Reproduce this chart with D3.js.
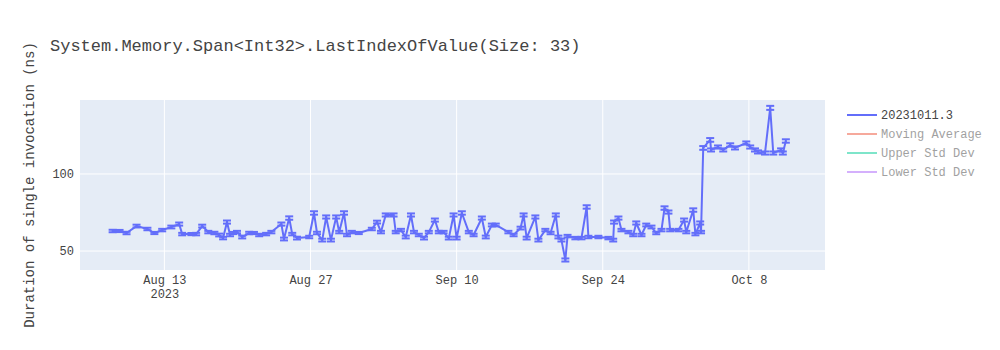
<!DOCTYPE html>
<html>
<head>
<meta charset="utf-8">
<script src="https://cdn.jsdelivr.net/npm/d3@7"></script>
<style>
  html, body { margin: 0; padding: 0; background: #fff; }
  svg { display: block; }
</style>
</head>
<body>
<svg id="chart" width="1000" height="350"></svg>
<script>
const chartTitle = "System.Memory.Span<Int32>.LastIndexOfValue(Size: 33)";
const yAxisTitle = "Duration of single invocation (ns)";
const seriesNames = ["20231011.3", "Moving Average", "Upper Std Dev", "Lower Std Dev"];
const seriesColors = ["#636efa", "#EF553B", "#00cc96", "#ab63fa"];
const yTicks = [50, 100];
const xTicks = ["2023-08-13", "2023-08-27", "2023-09-10", "2023-09-24", "2023-10-08"];
const xDomain = ["2023-08-04T22:00", "2023-10-15T07:00"];
const yDomain = [37.7, 148];

const dates = [
"2023-08-08T01:00","2023-08-08T17:00","2023-08-09T09:00","2023-08-10T08:00","2023-08-11T09:00",
"2023-08-12T01:00","2023-08-12T19:00","2023-08-13T16:00","2023-08-14T10:00","2023-08-14T17:00",
"2023-08-15T14:00","2023-08-16T01:00","2023-08-16T15:00","2023-08-17T05:00","2023-08-17T19:00",
"2023-08-18T06:00","2023-08-18T15:00","2023-08-19T00:00","2023-08-19T07:00","2023-08-19T14:00",
"2023-08-19T23:00","2023-08-20T11:00","2023-08-21T03:00","2023-08-21T14:00","2023-08-22T02:00",
"2023-08-22T18:00","2023-08-23T06:00","2023-08-24T05:00","2023-08-24T11:00","2023-08-24T23:00",
"2023-08-25T06:00","2023-08-25T17:00","2023-08-26T21:00","2023-08-27T08:00","2023-08-27T15:00",
"2023-08-28T03:00","2023-08-28T12:00","2023-08-28T23:00","2023-08-29T11:00","2023-08-29T18:00",
"2023-08-30T05:00","2023-08-30T12:00","2023-08-30T23:00","2023-08-31T15:00","2023-09-01T21:00",
"2023-09-02T09:00","2023-09-02T18:00","2023-09-03T05:00","2023-09-03T23:00","2023-09-04T04:00",
"2023-09-04T16:00","2023-09-05T03:00","2023-09-05T15:00","2023-09-05T22:00","2023-09-06T09:00",
"2023-09-06T21:00","2023-09-07T08:00","2023-09-07T22:00","2023-09-08T07:00","2023-09-08T18:00",
"2023-09-09T06:00","2023-09-09T17:00","2023-09-10T00:00","2023-09-10T12:00","2023-09-11T04:00",
"2023-09-11T15:00","2023-09-12T10:00","2023-09-12T19:00","2023-09-13T09:00","2023-09-13T18:00",
"2023-09-14T23:00","2023-09-15T11:00","2023-09-16T03:00","2023-09-16T10:00","2023-09-16T17:00",
"2023-09-17T13:00","2023-09-17T20:00","2023-09-18T12:00","2023-09-19T00:00","2023-09-19T12:00",
"2023-09-19T18:00","2023-09-20T01:00","2023-09-20T10:00","2023-09-20T15:00","2023-09-21T09:00",
"2023-09-21T23:00","2023-09-22T11:00","2023-09-22T15:00","2023-09-23T14:00","2023-09-24T13:00",
"2023-09-25T00:00","2023-09-25T02:00","2023-09-25T12:00","2023-09-25T19:00","2023-09-26T11:00",
"2023-09-26T22:00","2023-09-27T05:00","2023-09-27T17:00","2023-09-28T04:00","2023-09-28T16:00",
"2023-09-29T03:00","2023-09-29T15:00","2023-09-29T22:00","2023-09-30T07:00","2023-09-30T11:00",
"2023-10-01T06:00","2023-10-01T19:00","2023-10-02T00:00","2023-10-02T16:00","2023-10-02T21:00",
"2023-10-03T08:00","2023-10-03T10:00","2023-10-03T15:00","2023-10-04T07:00","2023-10-04T09:00",
"2023-10-05T01:00","2023-10-05T13:00","2023-10-06T05:00","2023-10-06T16:00","2023-10-07T18:00",
"2023-10-08T03:00","2023-10-08T14:00","2023-10-08T21:00","2023-10-09T13:00","2023-10-10T01:00",
"2023-10-10T08:00","2023-10-11T02:00","2023-10-11T06:00","2023-10-11T13:00"
];
const values = [
63.0,63.0,61.7,66.2,64.3,
61.7,63.6,65.6,67.5,61.0,
61.0,61.0,66.2,62.3,61.7,
60.4,58.4,68.8,60.4,61.7,
62.3,59.1,61.7,61.7,60.4,
61.0,62.3,67.5,57.8,71.4,
61.0,58.4,59.1,74.7,61.7,
57.1,72.1,57.1,72.1,62.3,
74.7,60.4,62.3,61.7,64.3,
68.8,62.3,73.4,73.4,62.3,
63.6,59.1,73.4,62.3,60.4,
58.4,62.3,70.1,62.3,62.3,
58.4,73.4,58.4,74.7,62.3,
60.4,71.4,59.1,66.9,66.9,
62.3,60.4,64.9,73.4,58.4,
72.1,57.1,63.6,61.7,73.4,
59.1,57.1,44.2,59.7,58.4,
58.4,78.6,59.1,59.1,58.4,
57.1,68.8,71.4,63.6,62.3,
60.4,68.2,60.4,66.9,65.6,
61.7,63.6,77.9,75.3,63.6,
63.6,70.1,62.3,76.6,61.0,
68.2,62.3,116.9,122.1,115.6,
117.5,115.6,118.8,116.9,120.1,
117.5,115.6,114.3,113.6,142.9,
113.6,115.6,113.6,121.4
];
const errors = [
0.8,0.7,0.8,0.9,0.8,
0.7,0.8,0.9,1.0,0.8,
0.7,0.8,0.9,0.8,0.8,
0.9,0.8,1.0,0.8,0.7,
0.8,0.9,0.8,0.7,0.8,
0.8,0.8,1.0,0.9,1.1,
0.8,0.9,0.8,1.1,0.8,
0.9,1.0,0.9,1.0,0.8,
1.1,0.8,0.8,0.7,0.8,
0.9,0.8,1.0,1.0,0.8,
0.8,0.9,1.0,0.8,0.8,
0.9,0.8,1.0,0.8,0.8,
0.9,1.0,0.9,1.1,0.8,
0.8,1.0,0.9,0.9,0.9,
0.8,0.8,0.9,1.0,0.9,
1.0,0.9,0.8,0.8,1.0,
0.9,0.9,1.0,0.8,0.8,
0.8,1.1,0.8,0.8,0.8,
0.9,1.0,1.0,0.8,0.8,
0.8,1.0,0.8,0.9,0.9,
0.8,0.8,1.1,1.0,0.8,
0.8,1.0,0.8,1.1,0.8,
1.0,0.8,1.2,1.2,1.0,
1.0,1.0,1.1,1.0,1.0,
1.0,1.0,1.0,1.0,1.3,
1.0,1.0,1.0,1.1
];

const parse = d3.isoParse;
const data = dates.map((d, i) => ({ date: parse(d), value: values[i], err: errors[i] }));

const plot = { left: 80, right: 825, top: 100, bottom: 270 };
const FONT = "'Liberation Mono', 'Courier New', monospace";
const TEXT = "#444";

const svg = d3.select("#chart");

const x = d3.scaleTime().domain(xDomain.map(parse)).range([plot.left, plot.right]);
const y = d3.scaleLinear().domain(yDomain).range([plot.bottom, plot.top]);

// background
svg.append("rect").attr("x", plot.left).attr("y", plot.top)
  .attr("width", plot.right - plot.left).attr("height", plot.bottom - plot.top)
  .attr("fill", "#e5ecf6");

// gridlines
const grid = svg.append("g");
grid.selectAll("line.vx").data(xTicks.map(parse)).join("line")
  .attr("x1", d => x(d)).attr("x2", d => x(d))
  .attr("y1", plot.top).attr("y2", plot.bottom)
  .attr("stroke", "#fff").attr("stroke-width", 1);
grid.selectAll("line.hy").data(yTicks).join("line")
  .attr("x1", plot.left).attr("x2", plot.right)
  .attr("y1", d => y(d)).attr("y2", d => y(d))
  .attr("stroke", "#fff").attr("stroke-width", 1);

// axes
const fmt = d3.timeFormat("%b %-d");
const xAxis = d3.axisBottom(x).tickValues(xTicks.map(parse)).tickSize(0).tickPadding(0)
  .tickFormat(d => fmt(d));
const gx = svg.append("g").attr("transform", `translate(0,${plot.bottom})`).call(xAxis);
gx.select(".domain").remove();
gx.selectAll("text").attr("font-family", FONT).attr("font-size", 12).attr("fill", TEXT)
  .attr("dy", null).attr("y", 14);
gx.selectAll(".tick").filter((d, i) => i === 0).append("text")
  .attr("y", 28).attr("text-anchor", "middle").attr("font-family", FONT)
  .attr("font-size", 12).attr("fill", TEXT).text(d => d3.timeFormat("%Y")(d));

const yAxis = d3.axisLeft(y).tickValues(yTicks).tickSize(0).tickPadding(6);
const gy = svg.append("g").attr("transform", `translate(${plot.left},0)`).call(yAxis);
gy.select(".domain").remove();
gy.selectAll("text").attr("font-family", FONT).attr("font-size", 12).attr("fill", TEXT);

// clip
svg.append("clipPath").attr("id", "clip").append("rect")
  .attr("x", plot.left).attr("y", plot.top)
  .attr("width", plot.right - plot.left).attr("height", plot.bottom - plot.top);

const g = svg.append("g").attr("clip-path", "url(#clip)");
const color = seriesColors[0];

// error bars
const eb = g.append("g").attr("stroke", color).attr("stroke-width", 2);
eb.selectAll("line.v").data(data).join("line")
  .attr("x1", d => x(d.date)).attr("x2", d => x(d.date))
  .attr("y1", d => y(d.value - d.err)).attr("y2", d => y(d.value + d.err));
eb.selectAll("line.t").data(data).join("line")
  .attr("x1", d => x(d.date) - 4).attr("x2", d => x(d.date) + 4)
  .attr("y1", d => y(d.value + d.err)).attr("y2", d => y(d.value + d.err));
eb.selectAll("line.b").data(data).join("line")
  .attr("x1", d => x(d.date) - 4).attr("x2", d => x(d.date) + 4)
  .attr("y1", d => y(d.value - d.err)).attr("y2", d => y(d.value - d.err));

// line
const line = d3.line().x(d => x(d.date)).y(d => y(d.value));
g.append("path").datum(data).attr("d", line)
  .attr("fill", "none").attr("stroke", color).attr("stroke-width", 2)
  .attr("stroke-linejoin", "round");

// title
svg.append("text").attr("x", 50).attr("y", 51)
  .attr("font-family", FONT).attr("font-size", 17).attr("fill", TEXT)
  .text(chartTitle);

// y axis title
svg.append("text")
  .attr("transform", `translate(34,${(plot.top + plot.bottom) / 2}) rotate(-90)`)
  .attr("text-anchor", "middle")
  .attr("font-family", FONT).attr("font-size", 14).attr("fill", TEXT)
  .text(yAxisTitle);

// legend
const lg = svg.append("g").attr("transform", "translate(845,115)");
seriesNames.forEach((name, i) => {
  const item = lg.append("g").attr("transform", `translate(0,${i * 19})`)
    .attr("opacity", i === 0 ? 1 : 0.5);
  item.append("line").attr("x1", 2).attr("x2", 32).attr("y1", 0).attr("y2", 0)
    .attr("stroke", seriesColors[i]).attr("stroke-width", 2);
  item.append("text").attr("x", 36).attr("y", 4)
    .attr("font-family", FONT).attr("font-size", 12).attr("fill", TEXT)
    .text(name);
});
</script>
</body>
</html>
